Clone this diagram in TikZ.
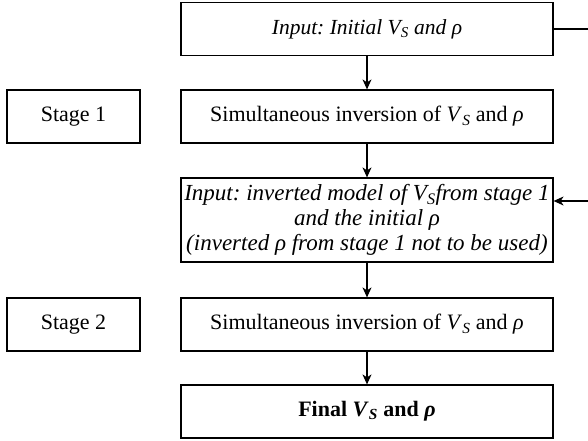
\documentclass[tikz,border=0pt]{standalone}
\usepackage{fontspec}
\setmainfont{Liberation Serif}
\usetikzlibrary{arrows.meta}
\frenchspacing
\newcommand{\Vs}{\textit{V}\textsubscript{\textit{S}}}
\newcommand{\rh}{\textit{ρ}}
\begin{document}
\begin{tikzpicture}[x=1pt,y=-1pt,
  box/.style={draw,line width=1.2pt,minimum width=372pt,minimum height=53pt,
    inner sep=0pt,align=center,font=\fontsize{22}{25}\selectfont},
  stagebox/.style={draw,line width=1.2pt,minimum width=133pt,minimum height=53pt,
    inner sep=0pt,font=\fontsize{22}{25}\selectfont},
  arr/.style={line width=1.2pt,-{Stealth[length=10pt,width=9pt,inset=3pt]}}]
\useasboundingbox (0,0) rectangle (588,440);
\clip (0,0) rectangle (588,440);
% main column
\node[box,font=\fontsize{21.5}{25}\selectfont] (b1) at (367,29) {\itshape Input: Initial \Vs{} and \rh};
\node[box] (b2) at (367,116.5) {Simultaneous inversion of \Vs{} and \rh};
\node[box,minimum height=84pt,font=\fontsize{23}{25}\selectfont] (b3) at (367,220)
  {\itshape Input: inverted model of \Vs{}from stage 1\\
   \itshape and the initial \rh\\
   \itshape (inverted \rh{} from stage 1 not to be used)};
\node[box] (b4) at (367,324.5) {Simultaneous inversion of \Vs{} and \rh};
\node[box] (b5) at (367,411.5) {\bfseries Final \Vs{} and \rh};
% stage labels
\node[stagebox] (s1) at (73.5,116.5) {Stage 1};
\node[stagebox] (s2) at (73.5,324.5) {Stage 2};
% flow
\draw[arr] (b1) -- (b2);
\draw[arr] (b2) -- (b3);
\draw[arr] (b3) -- (b4);
\draw[arr] (b4) -- (b5);
% feedback of the initial model into stage 2
\coordinate (loop) at (620,201);
\draw[arr] (b1.east) -| (loop) -- (loop -| b3.east);
\end{tikzpicture}
\end{document}
